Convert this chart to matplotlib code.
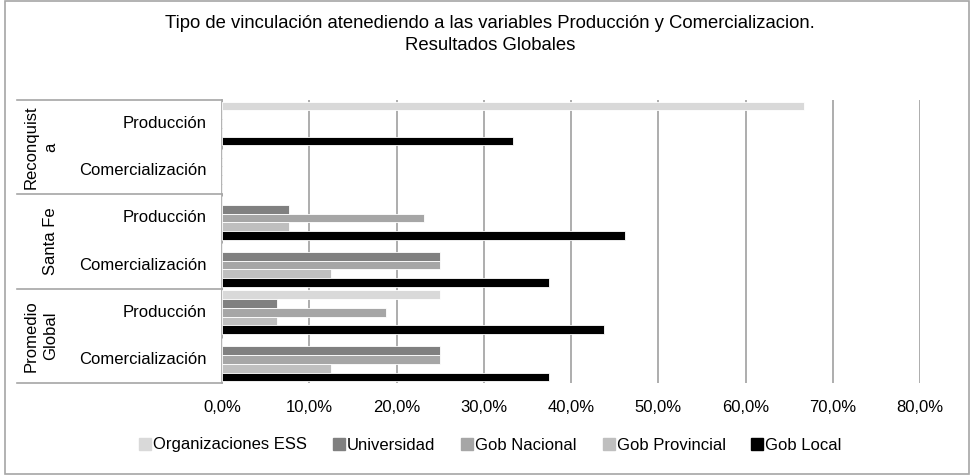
import numpy as np
import matplotlib.pyplot as plt
from matplotlib.patches import Rectangle
from matplotlib.lines import Line2D
from matplotlib.ticker import FuncFormatter

plt.rcParams['font.family'] = ['Liberation Sans', 'DejaVu Sans']

title = 'Tipo de vinculación atenediendo a las variables Producción y Comercializacion.\nResultados Globales'
groups = ['Reconquist\na', 'Santa Fe', 'Promedio\nGlobal']
subcats = ['Producción', 'Comercialización'] * 3
series = ['Organizaciones ESS', 'Universidad', 'Gob Nacional', 'Gob Provincial', 'Gob Local']
colors = ['#d9d9d9', '#808080', '#a6a6a6', '#bfbfbf', '#000000']

# values in %, one list per series, order of subcats (top to bottom)
org_ess = [66.7, 0, 0, 0, 25.0, 0]
universidad = [0, 0, 7.7, 25.0, 6.25, 25.0]
gob_nacional = [0, 0, 23.1, 25.0, 18.75, 25.0]
gob_provincial = [0, 0, 7.7, 12.5, 6.25, 12.5]
gob_local = [33.3, 0, 46.2, 37.5, 43.75, 37.5]
values = [org_ess, universidad, gob_nacional, gob_provincial, gob_local]

W, H = 971, 476
fig = plt.figure(figsize=(W / 100, H / 100), dpi=100)

left, right, top, bottom = 222, 920, 100, 383
ax = fig.add_axes([left / W, 1 - bottom / H, (right - left) / W, (bottom - top) / H])

n = len(subcats)
pos = np.arange(n)
h = 0.185
for i, (name, vals, c) in enumerate(zip(series, values, colors)):
    ax.barh(pos + (i - 2) * h, vals, height=h, color=c, edgecolor='white',
            linewidth=0.6, label=name, zorder=3)

ax.set_ylim(n - 0.5, -0.5)
ax.set_xlim(0, 80)
ax.set_xticks(np.arange(0, 81, 10))
ax.xaxis.set_major_formatter(FuncFormatter(lambda v, p: f'{v:.1f}%'.replace('.', ',')))
ax.tick_params(axis='x', length=0, pad=12.5, labelsize=12)
ax.set_yticks([])
ax.grid(axis='x', color='#a0a0a0', linewidth=1.2, zorder=0)
for s in ['top', 'right', 'bottom']:
    ax.spines[s].set_visible(False)
ax.spines['left'].set_color('#a6a6a6')
ax.spines['left'].set_linewidth(1.2)

# two-level category axis
def fy(py):
    return 1 - py / H

cat_h = (bottom - top) / n
for k in range(len(groups) + 1):
    py = top + k * 2 * cat_h
    fig.add_artist(Line2D([17 / W, left / W], [fy(py), fy(py)], color='#a6a6a6', lw=1.2))
for j, lab in enumerate(subcats):
    py = top + (j + 0.5) * cat_h
    fig.text(207 / W, fy(py), lab, ha='right', va='center', fontsize=12)
for g, lab in enumerate(groups):
    py = top + (g + 0.5) * 2 * cat_h
    fig.text(58 / W, fy(py), lab, ha='right', va='center', rotation=90,
             multialignment='center', fontsize=12, linespacing=1.35)

fig.text(490 / W, fy(34.5), title, ha='center', va='center', fontsize=13.3, linespacing=1.35)

handles = [Rectangle((0, 0), 1, 1, color=c) for c in colors]
fig.legend(handles, series, loc='center', bbox_to_anchor=(490.5 / W, fy(445)), ncol=5,
           frameon=False, fontsize=12, handlelength=0.72, handleheight=0.72,
           handletextpad=0.12, columnspacing=1.55)

fig.add_artist(Rectangle((5 / W, fy(474)), 964 / W, 473 / H, fill=False,
                         edgecolor='#a6a6a6', lw=1.2))

fig.savefig('out.png', dpi=100)
